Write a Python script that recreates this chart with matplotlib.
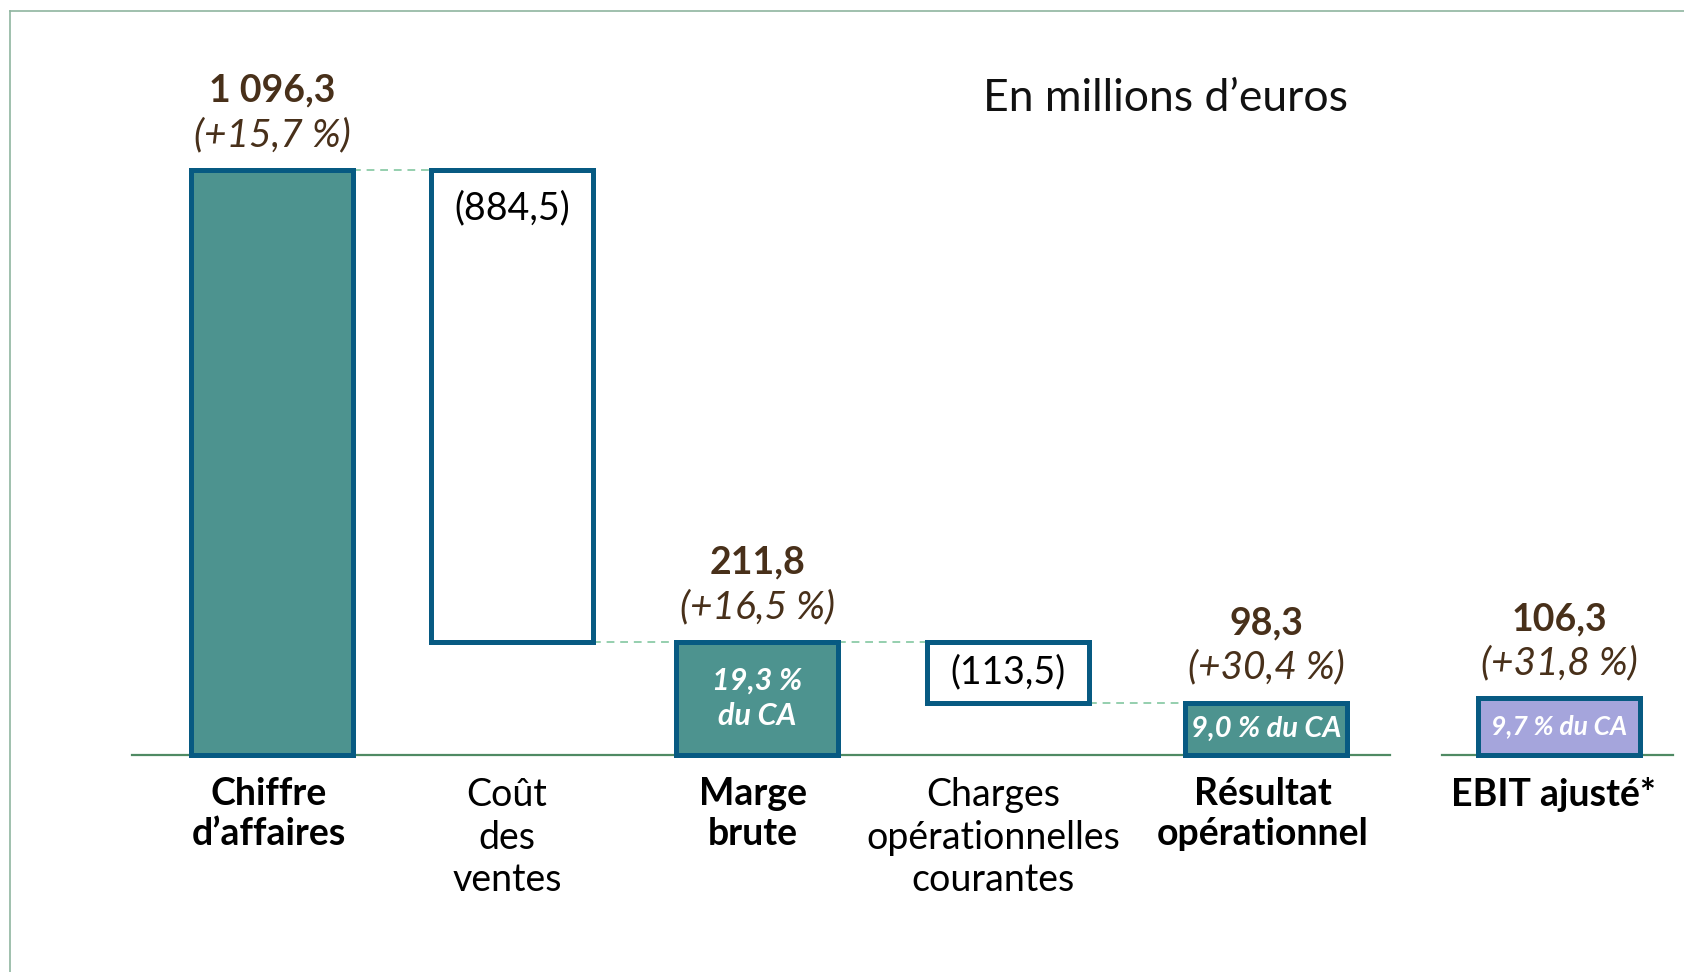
import matplotlib
matplotlib.use("Agg")
import matplotlib.pyplot as plt
from matplotlib.lines import Line2D

plt.rcParams["font.family"] = ["Lato", "DejaVu Sans"]

# data (millions of euros)
categories = ["Chiffre\nd\u2019affaires", "Co\u00fbt\ndes\nventes", "Marge\nbrute",
              "Charges\nop\u00e9rationnelles\ncourantes", "R\u00e9sultat\nop\u00e9rationnel",
              "EBIT ajust\u00e9*"]
values = [1096.3, -884.5, 211.8, -113.5, 98.3, 106.3]
kinds = ["total", "delta", "total", "delta", "total", "total"]
changes = ["+15,7 %", None, "+16,5 %", None, "+30,4 %", "+31,8 %"]
margins = [None, None, "19,3 %\ndu CA", None, "9,0 % du CA", "9,7 % du CA"]
bold_label = [True, False, True, False, True, True]

# layout
positions = [0, 0.966, 1.952, 2.962, 4.0, 5.179]
label_shift = [-3, -5, -4, -15, -3, -6]   # px nudges of the category labels
margin_size = [0, 0, 22, 0, 21, 19]
width = 0.652
teal = "#4D938F"
lavender = "#A5A5DC"
edge = "#075A82"
brown = "#48301A"
dash_green = "#95CFAE"
base_green = "#4F8A63"


def fr(v):
    return f"{v:,.1f}".replace(",", " ").replace(".", ",")


fig = plt.figure(figsize=(16.84, 9.72), dpi=100)
ax = fig.add_axes([0, 0, 1, 1])
ax.set_xlim(-1.0946, 5.682)
ax.set_ylim(-406.4, 1413.9)
ax.axis("off")

# waterfall geometry
bottoms, tops = [], []
running = 0.0
for v, k in zip(values, kinds):
    if k == "total":
        bottoms.append(0.0)
        tops.append(v)
        running = v
    else:
        new = running + v
        bottoms.append(new)
        tops.append(running)
        running = new

fills = [teal, "white", teal, "white", teal, lavender]
ax.bar(positions, [t - b for t, b in zip(tops, bottoms)], bottom=bottoms, width=width,
       color=fills, edgecolor=edge, linewidth=3.6, zorder=3)

# baselines
ax.plot([-0.563, 4.499], [0, 0], color=base_green, lw=1.6, zorder=2)
ax.plot([4.708, 5.638], [0, 0], color=base_green, lw=1.6, zorder=2)

# connectors
for i in range(4):
    if kinds[i + 1] == "delta":
        y = tops[i]
    else:
        y = bottoms[i] if kinds[i] == "delta" else tops[i]
    x0 = positions[i] + width / 2
    x1 = positions[i + 1] - width / 2
    ax.plot([x0, x1], [y, y], color=dash_green, lw=1.4, ls=(0, (4, 3)), zorder=1)

for i, (p, v, k) in enumerate(zip(positions, values, kinds)):
    if k == "total":
        ax.annotate(fr(v), (p, tops[i]), xytext=(0, 57), textcoords="offset points",
                    ha="center", va="center", fontsize=27, fontweight="bold", color=brown)
        ax.annotate(f"({changes[i]})", (p, tops[i]), xytext=(0, 25), textcoords="offset points",
                    ha="center", va="center", fontsize=28, style="italic", color=brown)
    else:
        h = tops[i] - bottoms[i]
        if h > 300:
            ax.annotate(f"({fr(abs(v))})", (p, tops[i]), xytext=(0, -28), textcoords="offset points",
                        ha="center", va="center", fontsize=27, color="black")
        else:
            ax.text(p, (tops[i] + bottoms[i]) / 2, f"({fr(abs(v))})", ha="center", va="center",
                    fontsize=27, color="black")
    if margins[i]:
        ax.text(p, tops[i] / 2, margins[i], ha="center", va="center", fontsize=margin_size[i],
                fontweight="bold", style="italic", color="white", linespacing=1.3, zorder=4)
    ax.annotate(categories[i], (p, 0), xytext=(label_shift[i] / 1.389, -16), textcoords="offset points",
                ha="center", va="top", fontsize=27, linespacing=1.22,
                fontweight="bold" if bold_label[i] else "normal", color="black")

ax.text(3.594, 1230, "En millions d\u2019euros", ha="center", va="center", fontsize=32, color="#111111")

# frame
fig.add_artist(Line2D([0.006, 0.006], [0, 0.989], color="#8FB5A0", lw=1.2))
fig.add_artist(Line2D([0.006, 1], [0.989, 0.989], color="#8FB5A0", lw=1.2))

fig.savefig("out.png", dpi=100)
